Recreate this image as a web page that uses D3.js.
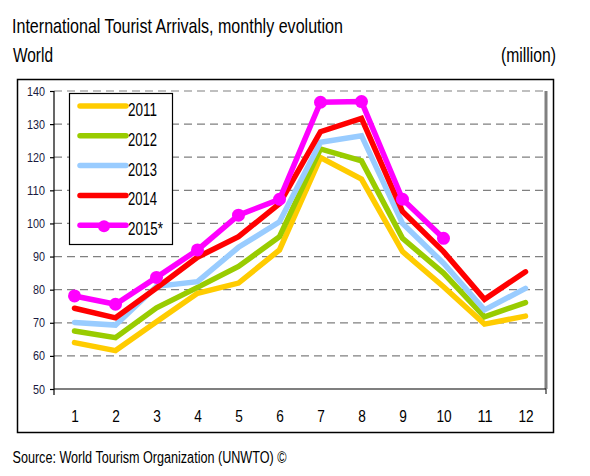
<!DOCTYPE html>
<html><head><meta charset="utf-8">
<script src="https://cdn.jsdelivr.net/npm/d3@7"></script>
<style>
body{margin:0;background:#fff;}
text{font-family:"Liberation Sans",Arial,sans-serif;}
</style></head>
<body>
<svg id="c" width="590" height="476"></svg>
<script>
const months = [1,2,3,4,5,6,7,8,9,10,11,12];
const seriesNames = ["2011","2012","2013","2014","2015*"];
const v2011 = [64.0,61.6,70.3,78.9,82.0,92.0,119.9,113.4,91.5,80.9,69.6,72.0];
const v2012 = [67.5,65.5,74.5,80.7,87.0,96.0,122.5,118.9,95.5,85.0,71.8,76.1];
const v2013 = [70.1,69.3,81.0,82.4,92.8,100.5,124.5,126.5,100.0,88.0,73.9,80.4];
const v2014 = [74.4,71.5,80.5,89.8,96.0,106.0,127.7,131.7,103.6,91.5,77.1,85.4];
const v2015 = [78.1,75.6,83.7,92.0,102.5,107.3,136.6,136.8,107.3,95.5];
const yTicks = [50,60,70,80,90,100,110,120,130,140];
const colors = ["#FFCC00","#99CC00","#99CCFF","#FF0000","#FF00FF"];
const allValues = [v2011,v2012,v2013,v2014,v2015];

const svg = d3.select("#c");
const L = 54, R = 546, T = 91, B = 389;

// outer frame
svg.append("rect").attr("x",17.5).attr("y",79.5).attr("width",536).attr("height",353)
  .attr("fill","none").attr("stroke","#000").attr("stroke-width",1.5);

// titles
svg.append("text").attr("x",12).attr("y",33).attr("font-size",21).attr("fill","#000")
  .attr("textLength",331).attr("lengthAdjust","spacingAndGlyphs")
  .text("International Tourist Arrivals, monthly evolution");
svg.append("text").attr("x",13).attr("y",61.5).attr("font-size",21).attr("fill","#000")
  .attr("textLength",40).attr("lengthAdjust","spacingAndGlyphs").text("World");
svg.append("text").attr("x",501).attr("y",61.5).attr("font-size",21).attr("fill","#000")
  .attr("textLength",55).attr("lengthAdjust","spacingAndGlyphs").text("(million)");
svg.append("text").attr("x",12.5).attr("y",463).attr("font-size",16).attr("fill","#000")
  .attr("textLength",274).attr("lengthAdjust","spacingAndGlyphs")
  .text("Source: World Tourism Organization (UNWTO) ©");

const x = d3.scalePoint().domain(months).range([L,R]).padding(0.5);
const y = d3.scaleLinear().domain([50,140]).range([B,T]);

// gridlines
svg.append("g").selectAll("line").data(yTicks.filter(d=>d>50)).join("line")
  .attr("x1",L).attr("x2",R).attr("y1",d=>y(d)).attr("y2",d=>y(d))
  .attr("stroke","#808080").attr("stroke-width",1.2).attr("stroke-dasharray","8,5");

// right gray border
svg.append("line").attr("x1",R).attr("x2",R).attr("y1",T).attr("y2",B)
  .attr("stroke","#808080").attr("stroke-width",3);

// y axis
const ya = svg.append("g").attr("transform",`translate(${L},0)`)
  .call(d3.axisLeft(y).tickValues(yTicks).tickSize(4).tickPadding(5).tickSizeOuter(0));
ya.select(".domain").remove();
ya.append("line").attr("x1",0).attr("x2",0).attr("y1",T).attr("y2",B+6).attr("stroke","#000").attr("stroke-width",1.2);
ya.selectAll(".tick line").attr("stroke","#000").attr("stroke-width",1.2);
ya.selectAll(".tick text").attr("font-size",12.5).attr("fill","#1a1a40")
  .attr("font-family",'"Liberation Sans",Arial,sans-serif')
  .attr("textLength",d=>String(d).length*6).attr("lengthAdjust","spacingAndGlyphs");

// x axis
const xa = svg.append("g").attr("transform",`translate(0,${B})`)
  .call(d3.axisBottom(x).tickSize(0).tickPadding(20.5));
xa.select(".domain").remove();
xa.append("line").attr("x1",L).attr("x2",R).attr("y1",0).attr("y2",0).attr("stroke","#000").attr("stroke-width",1.2);
xa.append("line").attr("x1",R).attr("x2",R).attr("y1",0).attr("y2",5).attr("stroke","#000").attr("stroke-width",1);
xa.selectAll(".tick text").attr("font-size",17).attr("fill","#000")
  .attr("font-family",'"Liberation Sans",Arial,sans-serif')
  .attr("textLength",d=>String(d).length*7.6).attr("lengthAdjust","spacingAndGlyphs");

// lines
const line = d3.line().x((d,i)=>x(months[i])).y(d=>y(d));
allValues.forEach((vals,k)=>{
  svg.append("path").datum(vals).attr("d",line).attr("fill","none")
    .attr("stroke",colors[k]).attr("stroke-width",5.5)
    .attr("stroke-linejoin","miter").attr("stroke-linecap","round");
});
svg.append("g").selectAll("circle").data(v2015).join("circle")
  .attr("cx",(d,i)=>x(months[i])).attr("cy",d=>y(d)).attr("r",6.5).attr("fill",colors[4]);

// legend
const lg = svg.append("g");
lg.append("rect").attr("x",69.5).attr("y",93.5).attr("width",103).attr("height",151)
  .attr("fill","#fff").attr("stroke","#000").attr("stroke-width",1.2);
seriesNames.forEach((n,k)=>{
  const yy = 106 + k*29.8;
  lg.append("line").attr("x1",80).attr("x2",126).attr("y1",yy).attr("y2",yy)
    .attr("stroke",colors[k]).attr("stroke-width",5.5).attr("stroke-linecap","round");
  if(k===4) lg.append("circle").attr("cx",104).attr("cy",yy+1).attr("r",6).attr("fill",colors[k]);
  lg.append("text").attr("x",128).attr("y",yy+10).attr("font-size",17.5).attr("fill","#000")
    .attr("textLength",n.length===5?35:29).attr("lengthAdjust","spacingAndGlyphs").text(n);
});
</script>
</body></html>
